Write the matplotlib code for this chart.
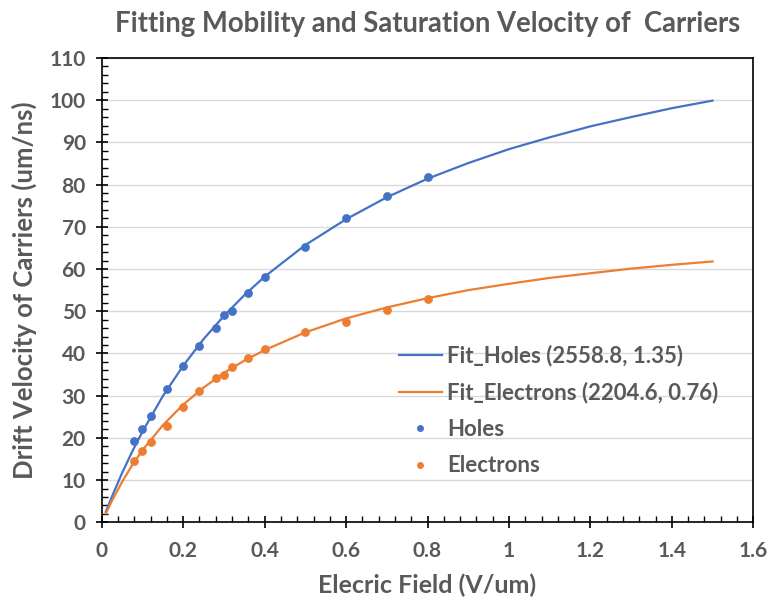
import matplotlib
matplotlib.use("Agg")
import matplotlib.pyplot as plt
from matplotlib.ticker import MultipleLocator, FuncFormatter

# ---- data ----
field_pts = [0.08, 0.10, 0.12, 0.16, 0.20, 0.24, 0.28, 0.30, 0.32, 0.36, 0.40, 0.50, 0.60, 0.70, 0.80]
holes_pts = [19.3, 22.0, 25.3, 31.7, 37.1, 41.8, 46.1, 49.0, 50.1, 54.4, 58.1, 65.3, 72.1, 77.4, 81.9]
electrons_pts = [14.6, 16.9, 19.0, 22.8, 27.4, 31.1, 34.3, 34.8, 36.7, 38.9, 41.0, 45.0, 47.4, 50.3, 52.9]

field_fit = [0.01, 0.025, 0.05, 0.075, 0.10, 0.15, 0.20, 0.25, 0.30, 0.35, 0.40,
             0.50, 0.60, 0.70, 0.80, 0.90, 1.00, 1.10, 1.20, 1.30, 1.40, 1.50]
holes_fit = [2.5, 6.1, 11.7, 16.8, 21.5, 29.9, 37.1, 43.4, 48.9, 53.8, 58.2,
             65.7, 71.8, 77.0, 81.4, 85.1, 88.4, 91.2, 93.8, 96.0, 98.1, 99.9]
electrons_fit = [2.1, 5.1, 9.6, 13.6, 17.1, 23.0, 27.9, 31.9, 35.4, 38.3, 40.8,
                 45.0, 48.3, 50.9, 53.1, 55.0, 56.5, 57.9, 59.0, 60.1, 61.0, 61.8]

labels = ["Fit_Holes (2558.8, 1.35)", "Fit_Electrons (2204.6, 0.76)", "Holes", "Electrons"]
title = "Fitting Mobility and Saturation Velocity of  Carriers"
xlabel = "Elecric Field (V/um)"
ylabel = "Drift Velocity of Carriers (um/ns)"

BLUE = "#4472C4"
ORANGE = "#ED7D31"
GRAY = "#595959"

plt.rcParams['font.family'] = ['Lato', 'DejaVu Sans']

fig = plt.figure(figsize=(7.71, 6.07), dpi=100)
ax = fig.add_axes([0.132, 0.1395, 0.845, 0.765])

ax.plot(field_fit, holes_fit, color=BLUE, lw=1.6, label=labels[0], zorder=3)
ax.plot(field_fit, electrons_fit, color=ORANGE, lw=1.6, label=labels[1], zorder=3)
ax.plot(field_pts, holes_pts, 'o', color=BLUE, ms=5.3, label=labels[2], zorder=4)
ax.plot(field_pts, electrons_pts, 'o', color=ORANGE, ms=5.3, label=labels[3], zorder=4)

ax.set_xlim(0, 1.6)
ax.set_ylim(0, 110)
ax.xaxis.set_major_locator(MultipleLocator(0.2))
ax.xaxis.set_minor_locator(MultipleLocator(0.04))
ax.yaxis.set_major_locator(MultipleLocator(10))
ax.yaxis.set_minor_locator(MultipleLocator(2))
ax.xaxis.set_major_formatter(FuncFormatter(lambda v, p: f"{v:g}"))

ax.grid(axis='y', which='major', color='#D9D9D9', lw=1.0, zorder=0)
ax.set_axisbelow(True)
for s in ax.spines.values():
    s.set_color('black')
    s.set_linewidth(1.2)

ax.tick_params(which='major', direction='inout', length=9, width=1.2, color='black',
               labelsize=15, labelcolor=GRAY)
ax.tick_params(axis='y', which='major', pad=7)
ax.tick_params(axis='x', which='major', pad=9)
ax.tick_params(which='minor', direction='in', length=4.5, width=1.0, color='black')
for lab in ax.get_xticklabels() + ax.get_yticklabels():
    lab.set_fontweight('bold')

ax.set_xlabel(xlabel, fontsize=18, fontweight='bold', color=GRAY, labelpad=9)
ax.set_ylabel(ylabel, fontsize=18.5, fontweight='bold', color=GRAY, labelpad=9)
ax.set_title(title, fontsize=19.8, fontweight='bold', color=GRAY, pad=19)

leg = ax.legend(loc='lower left', bbox_to_anchor=(0.426, 0.056), frameon=False,
                fontsize=16, handlelength=1.9, handletextpad=0.25, labelspacing=0.69,
                markerscale=0.75)
for t in leg.get_texts():
    t.set_color(GRAY)
    t.set_fontweight('bold')

fig.savefig("out.png", dpi=100)
